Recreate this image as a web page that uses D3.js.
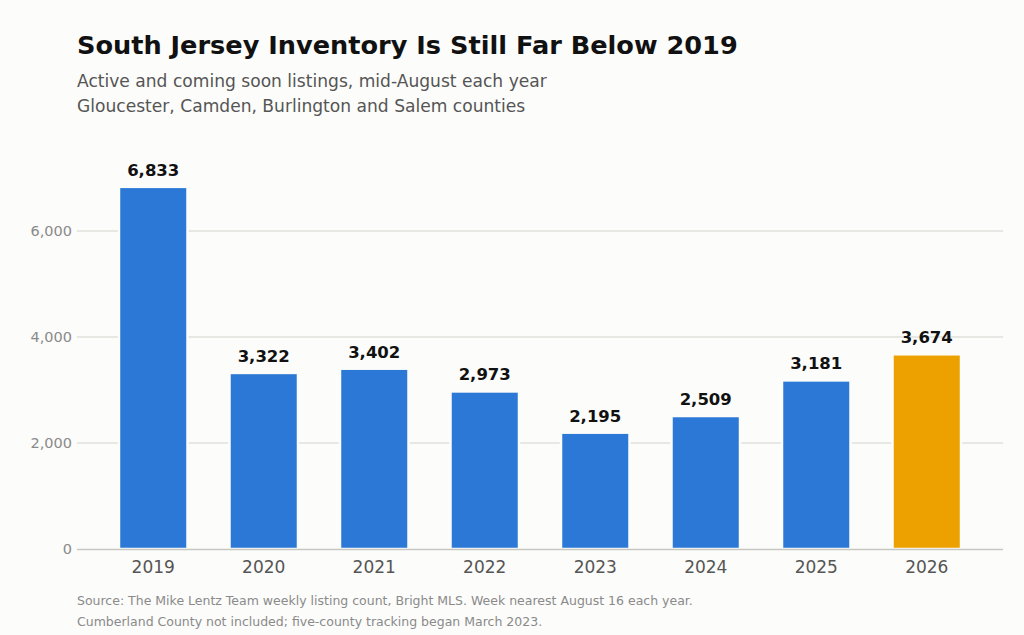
<!DOCTYPE html>
<html><head><meta charset="utf-8">
<script src="https://cdn.jsdelivr.net/npm/d3@7"></script>
<style>
html,body{margin:0;padding:0;background:#fcfcfa;}
svg{display:block;font-family:"DejaVu Sans",sans-serif;}
</style></head>
<body>
<svg id="chart" width="1024" height="635"></svg>
<script>
const years = ["2019","2020","2021","2022","2023","2024","2025","2026"];
const listings = [6833,3322,3402,2973,2195,2509,3181,3674];
const highlightYear = "2026";
const yTicks = [0,2000,4000,6000];
const title = "South Jersey Inventory Is Still Far Below 2019";
const subtitles = ["Active and coming soon listings, mid-August each year","Gloucester, Camden, Burlington and Salem counties"];
const notes = ["Source: The Mike Lentz Team weekly listing count, Bright MLS. Week nearest August 16 each year.","Cumberland County not included; five-county tracking began March 2023."];

const svg = d3.select("#chart");
const W = 1024, H = 635;
const m = {left:77, right:21, top:178, bottom:86};
const bg = "#fcfcfa";
svg.append("rect").attr("width",W).attr("height",H).attr("fill",bg);

const x = d3.scaleBand().domain(years).range([m.left, W-m.right]).paddingInner(0.38).paddingOuter(0.38);
const y = d3.scaleLinear().domain([0,7000]).range([H-m.bottom, m.top]);

// title
svg.append("text").attr("x",77).attr("y",54).text(title)
  .attr("font-size",25.6).attr("font-weight","bold").attr("fill","#111");
subtitles.forEach((s,i)=>svg.append("text").attr("x",77).attr("y",87+i*25).text(s)
  .attr("font-size",17.1).attr("fill","#555"));

// grid
const grid = svg.append("g");
grid.selectAll("line").data(yTicks.filter(d=>d>0)).join("line")
  .attr("x1",m.left).attr("x2",W-m.right).attr("y1",d=>y(d)).attr("y2",d=>y(d))
  .attr("stroke","#e0e0dc").attr("stroke-width",1.3);

// y axis labels
const yAxis = d3.axisLeft(y).tickValues(yTicks).tickSize(0).tickPadding(5).tickFormat(d3.format(","));
const ga = svg.append("g").attr("transform",`translate(${m.left},0)`).call(yAxis);
ga.select(".domain").remove();
ga.selectAll("text").attr("font-size",14.5).attr("fill","#8a8a8a").attr("font-family","DejaVu Sans, sans-serif");

// bars
svg.append("g").selectAll("rect").data(years).join("rect")
  .attr("x",d=>x(d)).attr("width",x.bandwidth())
  .attr("y",(d,i)=>y(listings[i])).attr("height",(d,i)=>y(0)-y(listings[i]))
  .attr("fill",d=>d===highlightYear?"#eda100":"#2b78d6")
  .attr("stroke",bg).attr("stroke-width",2.5);

// baseline
svg.append("line").attr("x1",m.left).attr("x2",W-m.right).attr("y1",y(0)+0.5).attr("y2",y(0)+0.5)
  .attr("stroke","#c6c6c2").attr("stroke-width",1.5);

// value labels
svg.append("g").selectAll("text").data(years).join("text")
  .attr("x",d=>x(d)+x.bandwidth()/2).attr("y",(d,i)=>y(listings[i])-11)
  .attr("text-anchor","middle").attr("font-size",16.5).attr("font-weight","bold").attr("fill","#111")
  .text((d,i)=>d3.format(",")(listings[i]));

// x axis
const xAxis = d3.axisBottom(x).tickSize(0).tickPadding(12);
const gx = svg.append("g").attr("transform",`translate(0,${y(0)})`).call(xAxis);
gx.select(".domain").remove();
gx.selectAll("text").attr("font-size",17).attr("fill","#555").attr("font-family","DejaVu Sans, sans-serif");

// notes
notes.forEach((s,i)=>svg.append("text").attr("x",77).attr("y",605+i*21).text(s)
  .attr("font-size",12.5).attr("fill","#8a8a8a"));
</script>
</body></html>
